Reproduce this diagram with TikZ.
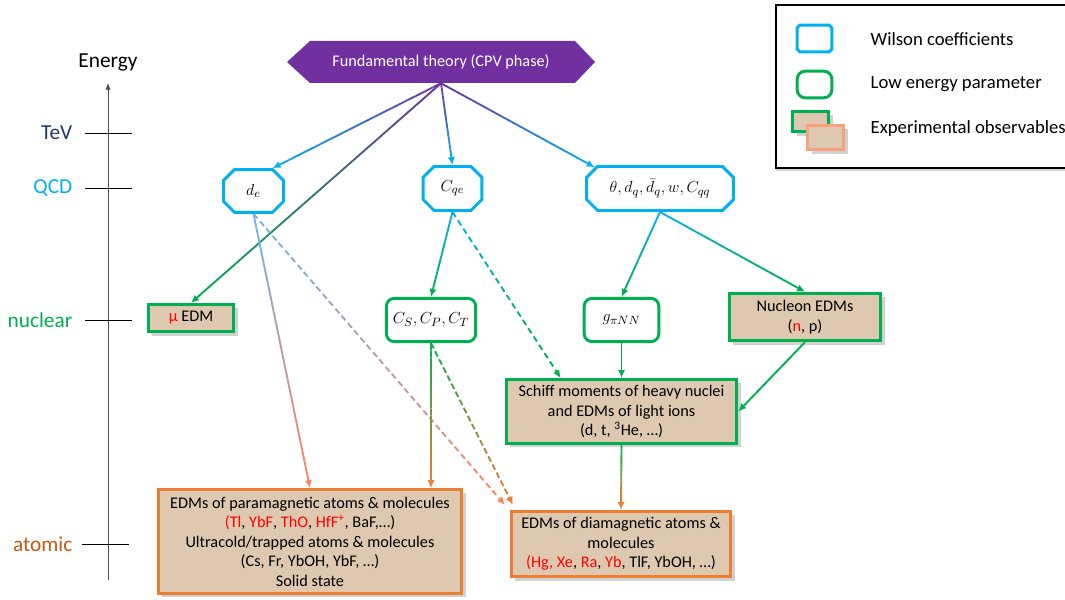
\documentclass[tikz,border=0pt]{standalone}
\usepackage{fontspec}
\setmainfont{Carlito}
\usetikzlibrary{calc,shapes.misc,shadows,arrows.meta}
\definecolor{theory}{RGB}{112,48,160}
\definecolor{wilson}{RGB}{0,176,240}
\definecolor{lowen}{RGB}{0,176,80}
\definecolor{expt}{RGB}{237,125,49}
\definecolor{obsfill}{RGB}{222,200,176}
\definecolor{tevcol}{RGB}{31,56,100}
\definecolor{atomcol}{RGB}{197,90,17}
\definecolor{lightwil}{RGB}{110,180,240}
\definecolor{salmon}{RGB}{250,135,100}
\newcommand{\hl}[1]{\textcolor{red}{#1}}
% connector whose colour runs from #4 to #5
\newcommand{\gradarrow}[5][]{
  \foreach \i in {1,...,19}{
    \pgfmathtruncatemacro{\pc}{5*\i}
    \draw[conn,#1,color=#5!\pc!#4] ($(#2)!{(\i-1)/20}!(#3)$) -- ($(#2)!{\i/20}!(#3)$);
  }
  \draw[conn,#1,color=#5,-{Latex[length=6pt,width=5.5pt]}] ($(#2)!{19/20}!(#3)$) -- (#3);
}
\tikzset{
  conn/.style={line width=1.4pt},
  dashpat/.style={dash pattern=on 4.5pt off 3pt},
  wilbox/.style={chamfered rectangle, chamfered rectangle xsep=5pt, draw=wilson,
    line width=2.2pt, fill=white, inner sep=1pt, font=\fontsize{13}{15}\selectfont},
  lowbox/.style={rectangle, rounded corners=6pt, draw=lowen, line width=2.2pt,
    fill=white, inner sep=1pt, font=\fontsize{13}{15}\selectfont},
  obsbox/.style={rectangle, line width=2.2pt, fill=obsfill, align=center,
    inner sep=2pt, font=\fontsize{12.2}{14.6}\selectfont,
    drop shadow={shadow xshift=3pt, shadow yshift=-3pt, fill=black, opacity=0.18}},
  levelmark/.style={line width=0.7pt},
  scalelabel/.style={anchor=east, font=\fontsize{16}{19}\selectfont},
  legendtext/.style={anchor=west, font=\fontsize{14}{16}\selectfont}
}
\begin{document}
\begin{tikzpicture}[x=0.75pt,y=0.75pt]
\useasboundingbox (0,0) rectangle (1065,600);
% energy axis
\draw[line width=0.6pt,black!70,-{Latex[length=5pt,width=4pt]}] (108,20) -- (108,517);
\node[font=\fontsize{16}{19}\selectfont] (energy) at (108,538) {Energy};
\draw[levelmark] (85,467) -- (132,467);
\draw[levelmark] (85,412) -- (132,412);
\draw[levelmark] (85,280) -- (132,280);
\draw[levelmark] (82,56) -- (129,56);
\node[scalelabel,text=tevcol] (tev) at (77,467) {TeV};
\node[scalelabel,text=wilson] (qcd) at (77,412) {QCD};
\node[scalelabel,text=lowen] (nuclear) at (77,280) {nuclear};
\node[scalelabel,text=atomcol] (atomic) at (77,56) {atomic};

% fundamental theory
\fill[theory] (287,538) -- (310,559) -- (575,559) -- (595,538) -- (575,517) -- (310,517) -- cycle;
\node[minimum width=231pt, minimum height=31.5pt, text=white, font=\fontsize{12.2}{14}\selectfont] (fund) at (441,538) {Fundamental theory (CPV phase)};

% Wilson coefficients
\node[wilbox, minimum width=45pt, minimum height=32pt] (de) at (253.5,409) {$d_e$};
\node[wilbox, minimum width=44pt, minimum height=33pt] (cqe) at (452.5,411.5) {$C_{qe}$};
\node[wilbox, minimum width=110pt, minimum height=33pt] (theta) at (660,411.5) {$\theta, d_q, \bar{d}_q, w, C_{qq}$};

% low energy parameters
\node[obsbox, draw=lowen, minimum width=64pt, minimum height=20.5pt] (muedm) at (191,282) {\hl{μ} EDM};
\node[lowbox, minimum width=67pt, minimum height=32.5pt] (cs) at (431,280) {$C_S, C_P, C_T$};
\node[lowbox, minimum width=56pt, minimum height=32.5pt] (gpinn) at (621.5,280) {$g_{\pi NN}$};
\node[obsbox, draw=lowen, minimum width=113.5pt, minimum height=35.5pt] (nucleon) at (805,283) {Nucleon EDMs\\(\hl{n}, p)};
\node[obsbox, draw=lowen, minimum width=173pt, minimum height=48pt] (schiff) at (621.5,188.5) {Schiff moments of heavy nuclei\\and EDMs of light ions\\(d, t, \textsuperscript{3}He, …)};

% experimental observables
\node[obsbox, draw=expt, minimum width=227.5pt, minimum height=78pt] (para) at (310,58.5) {EDMs of paramagnetic atoms \& molecules\\\hl{(Tl}, \hl{YbF}, \hl{ThO}, \hl{HfF\textsuperscript{+}}, BaF,…)\\Ultracold/trapped atoms \& molecules\\(Cs, Fr, YbOH, YbF, …)\\Solid state};
\node[obsbox, draw=expt, minimum width=164.5pt, minimum height=49pt] (dia) at (621,56) {EDMs of diamagnetic atoms \&\\molecules\\\hl{(Hg, Xe}, \hl{Ra}, \hl{Yb}, TlF, YbOH, …)};

\coordinate (schiffin) at ($(schiff.north west)+(56,0)$);
\coordinate (paraup) at (cs.south |- para.north);
\coordinate (diaA) at ($(dia.north west)+(-5,5)$);
\coordinate (diaB) at ($(dia.north west)+(3,5)$);

% connectors
\gradarrow{fund.south}{de.50}{theory}{wilson}
\gradarrow{fund.south}{cqe.north}{theory}{wilson}
\gradarrow{fund.south}{theta.162}{theory}{wilson}
\gradarrow{fund.south}{muedm.north}{theory}{lowen}
\gradarrow{de.south}{para.north}{lightwil}{salmon}
\gradarrow[dashpat]{de.south}{diaA}{lightwil}{salmon}
\gradarrow{cqe.south}{cs.north}{wilson}{lowen}
\gradarrow[dashpat]{cqe.south}{schiffin}{wilson}{lowen}
\gradarrow{theta.south}{gpinn.north}{wilson}{lowen}
\gradarrow{theta.south}{nucleon.north}{wilson}{lowen}
\gradarrow{cs.south}{paraup}{lowen}{expt}
\gradarrow[dashpat]{cs.south}{diaB}{lowen}{expt}
\draw[conn,lowen,-{Latex[length=6pt,width=5.5pt]}] (gpinn.south) -- (schiff.north);
\draw[conn,lowen,-{Latex[length=6pt,width=5.5pt]}] (nucleon.south) -- (schiff.east);
\gradarrow{schiff.south}{dia.north}{lowen}{expt}

% legend
\draw[line width=0.9pt, fill=white, drop shadow={shadow xshift=0pt, shadow yshift=-2pt, opacity=0.35}] (776,595) rectangle (1072,432);
\node[wilbox, minimum width=26pt, minimum height=20pt] (keywil) at (814.5,561.5) {};
\node[lowbox, minimum width=26pt, minimum height=20pt] (keylow) at (814.5,515.5) {};
\node[obsbox, draw=lowen, minimum width=27pt, minimum height=15.5pt] (keyexpA) at (810.5,478.5) {};
\node[obsbox, draw=expt!80!red!60!white, minimum width=27pt, minimum height=18.5pt] (keyexpB) at (825.5,462.5) {};
\node[legendtext] (keywiltext) at (866,561) {Wilson coefficients};
\node[legendtext] (keylowtext) at (866,516) {Low energy parameter};
\node[legendtext] (keyexptext) at (866,471) {Experimental observables};
\end{tikzpicture}
\end{document}
